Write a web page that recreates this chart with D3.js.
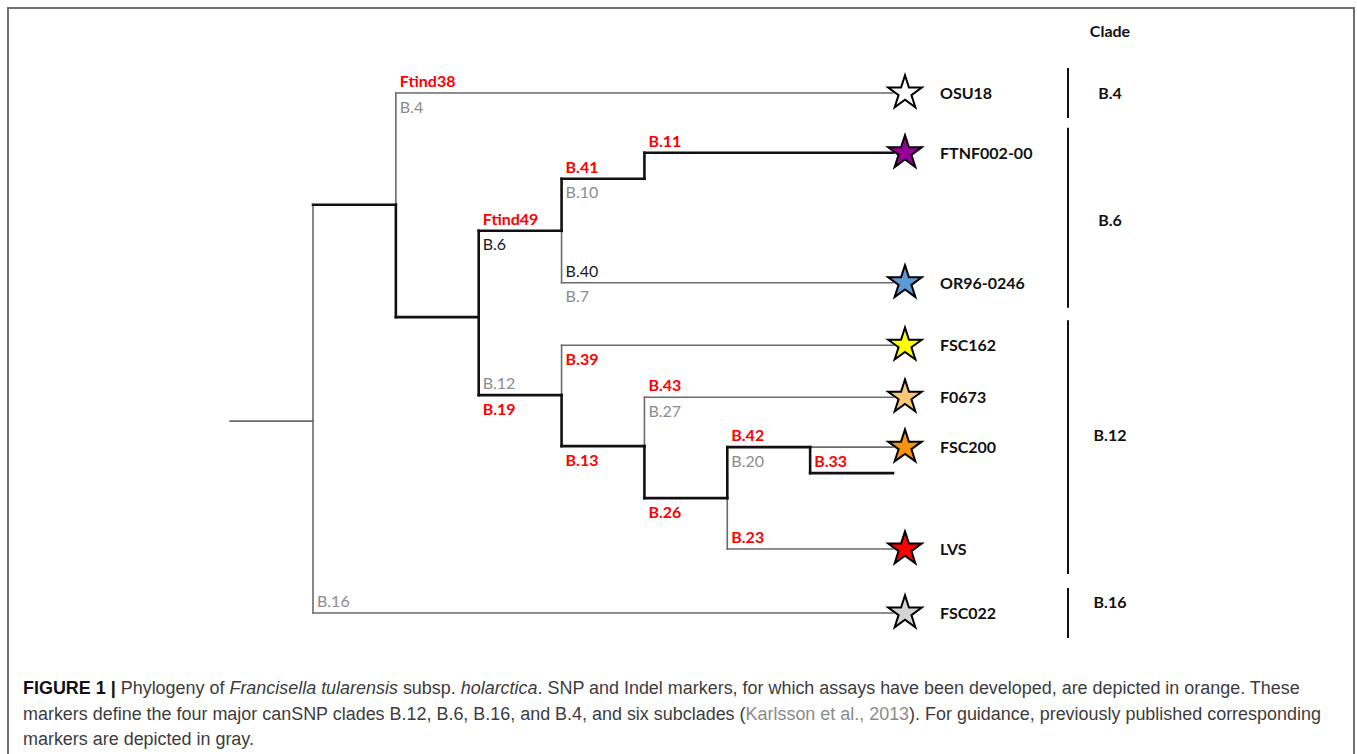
<!DOCTYPE html>
<html>
<head>
<meta charset="utf-8">
<script src="https://cdn.jsdelivr.net/npm/d3@7"></script>
<style>
  body { margin: 0; background: #fff; }
  svg { display: block; }
</style>
</head>
<body>
<svg id="chart" width="1357" height="754"></svg>
<script>
// tree: level = branch depth (tips at 7), row = vertical position 0 (top tip) .. 100 (bottom tip)
const treeNodes = [
  { id: 'root', parent: null, level: 0, row: 63.1 },
  { id: 'n1', parent: 'root', level: 1, row: 21.5, bold: 'h' },
  { id: 'OSU18', parent: 'n1', level: 7, row: 0 },
  { id: 'n2', parent: 'n1', level: 2, row: 43.1, bold: true },
  { id: 'n3', parent: 'n2', level: 3, row: 26.5, bold: true },
  { id: 'n4', parent: 'n3', level: 4, row: 16.5, bold: true },
  { id: 'FTNF002-00', parent: 'n4', level: 7, row: 11.5, bold: true },
  { id: 'OR96-0246', parent: 'n3', level: 7, row: 36.5 },
  { id: 'n5', parent: 'n2', level: 3, row: 58.1, bold: true },
  { id: 'FSC162', parent: 'n5', level: 7, row: 48.5 },
  { id: 'n6', parent: 'n5', level: 4, row: 67.9, bold: true },
  { id: 'F0673', parent: 'n6', level: 7, row: 58.5 },
  { id: 'n7', parent: 'n6', level: 5, row: 77.9, bold: true },
  { id: 'n8', parent: 'n7', level: 6, row: 68.1, bold: true },
  { id: 'FSC200', parent: 'n8', level: 7, row: 68.1 },
  { id: 'n9', parent: 'n8', level: 7, row: 73.1, bold: true },
  { id: 'LVS', parent: 'n7', level: 7, row: 87.7 },
  { id: 'FSC022', parent: 'root', level: 7, row: 100 }
]

// strains and star colours
const strainNames = ['OSU18', 'FTNF002-00', 'OR96-0246', 'FSC162', 'F0673', 'FSC200', 'LVS', 'FSC022']
const strainColors = ['#ffffff', '#990099', '#5b9bd5', '#ffff00', '#fac775', '#f7930f', '#ff0000', '#d4d4d4']

// markers on branches: kind new = red, old = gray, ref = black
const markers = [
  { edge: 'OSU18', text: 'Ftind38', kind: 'new', side: 'above' },
  { edge: 'OSU18', text: 'B.4', kind: 'old', side: 'below' },
  { edge: 'n3', text: 'Ftind49', kind: 'new', side: 'above' },
  { edge: 'n3', text: 'B.6', kind: 'ref', side: 'below' },
  { edge: 'n4', text: 'B.41', kind: 'new', side: 'above' },
  { edge: 'n4', text: 'B.10', kind: 'old', side: 'below' },
  { edge: 'FTNF002-00', text: 'B.11', kind: 'new', side: 'above' },
  { edge: 'OR96-0246', text: 'B.40', kind: 'ref', side: 'above' },
  { edge: 'OR96-0246', text: 'B.7', kind: 'old', side: 'below' },
  { edge: 'n5', text: 'B.12', kind: 'old', side: 'above' },
  { edge: 'n5', text: 'B.19', kind: 'new', side: 'below' },
  { edge: 'FSC162', text: 'B.39', kind: 'new', side: 'below' },
  { edge: 'n6', text: 'B.13', kind: 'new', side: 'below' },
  { edge: 'F0673', text: 'B.43', kind: 'new', side: 'above' },
  { edge: 'F0673', text: 'B.27', kind: 'old', side: 'below' },
  { edge: 'n7', text: 'B.26', kind: 'new', side: 'below' },
  { edge: 'n8', text: 'B.42', kind: 'new', side: 'above' },
  { edge: 'n8', text: 'B.20', kind: 'old', side: 'below' },
  { edge: 'n9', text: 'B.33', kind: 'new', side: 'above' },
  { edge: 'LVS', text: 'B.23', kind: 'new', side: 'above' },
  { edge: 'FSC022', text: 'B.16', kind: 'old', side: 'above' }
]

// clades
const cladeNames = ['B.4', 'B.6', 'B.12', 'B.16']
const cladeMembers = [['OSU18'], ['FTNF002-00', 'OR96-0246'], ['FSC162', 'F0673', 'FSC200', 'LVS'], ['FSC022']]
const cladeLabelRows = [0, 24.4, 65.8, 97.9]

const captionLines = [
  [['FIGURE 1 | ', 'b'], ['Phylogeny of ', ''], ['Francisella tularensis', 'i'], [' subsp. ', ''], ['holarctica', 'i'],
    ['. SNP and Indel markers, for which assays have been developed, are depicted in orange. These', '']],
  [['markers define the four major canSNP clades B.12, B.6, B.16, and B.4, and six subclades (', ''],
    ['Karlsson et al., 2013', 'g'], ['). For guidance, previously published corresponding', '']],
  [['markers are depicted in gray.', '']]
]

const kindColor = { new: '#ff0000', old: '#8c8c8c', ref: '#1a1a1a' }
const labelFont = 'Lato, "Open Sans", sans-serif'

const svg = d3.select('#chart')

// frame
svg.append('rect')
  .attr('x', 8).attr('y', 8)
  .attr('width', 1346).attr('height', 800)
  .attr('fill', 'none')
  .attr('stroke', '#707070')
  .attr('stroke-width', 2)

const x = d3.scaleLinear().domain([0, 7]).range([313, 893])
const y = d3.scaleLinear().domain([0, 100]).range([93, 613])

const root = d3.stratify().id(d => d.id).parentId(d => d.parent)(treeNodes)
const byId = new Map(root.descendants().map(d => [d.id, d]))

const thin = { stroke: '#6a6a6a', width: 1.6 }
const thick = { stroke: '#111', width: 2.6 }

const segs = []
// stub in front of root
segs.push({ x1: x(-1), y1: y(root.data.row), x2: x(0), y2: y(root.data.row), s: thin })
root.descendants().forEach(d => {
  if (!d.parent) return
  const px = x(d.parent.data.level)
  const py = y(d.parent.data.row)
  const cy = y(d.data.row)
  const b = d.data.bold
  const vs = b === true ? thick : thin
  const hs = b ? thick : thin
  segs.push({ x1: px, y1: py, x2: px, y2: cy, s: vs })
  segs.push({ x1: px, y1: cy, x2: x(d.data.level), y2: cy, s: hs })
})

// thin first, thick on top
segs.sort((a, b) => a.s.width - b.s.width)

svg.append('g')
  .selectAll('line')
  .data(segs)
  .join('line')
  .attr('x1', d => d.x1).attr('y1', d => d.y1)
  .attr('x2', d => d.x2).attr('y2', d => d.y2)
  .attr('stroke', d => d.s.stroke)
  .attr('stroke-width', d => d.s.width)
  .attr('stroke-linecap', 'square')

// branch markers
svg.append('g')
  .selectAll('text')
  .data(markers)
  .join('text')
  .attr('x', d => x(byId.get(d.edge).parent.data.level) + 4)
  .attr('y', d => y(byId.get(d.edge).data.row) + (d.side === 'above' ? -6 : 19.5))
  .attr('fill', d => kindColor[d.kind])
  .attr('font-family', labelFont)
  .attr('font-weight', d => d.kind === 'new' ? 700 : 400)
  .attr('font-size', 16)
  .text(d => d.text)

// stars and strain names
const star = d3.symbol().type(d3.symbolStar).size(350)
const strains = strainNames.map((name, i) => ({ name, color: strainColors[i], node: byId.get(name) }))

const leafG = svg.append('g')
  .selectAll('g')
  .data(strains)
  .join('g')
  .attr('transform', d => `translate(${x(7) + 12},${y(d.node.data.row)})`)

leafG.append('path')
  .attr('d', star)
  .attr('fill', d => d.color)
  .attr('stroke', '#000')
  .attr('stroke-width', 2)
  .attr('stroke-linejoin', 'miter')

leafG.append('text')
  .attr('x', 35)
  .attr('y', 6)
  .attr('font-family', labelFont)
  .attr('font-weight', 700)
  .attr('font-size', 16)
  .attr('fill', '#111')
  .text(d => d.name)

// clade column
const cladeX = 1068
svg.append('text')
  .attr('x', 1110).attr('y', 37)
  .attr('text-anchor', 'middle')
  .attr('font-family', labelFont)
  .attr('font-weight', 700)
  .attr('font-size', 16)
  .attr('fill', '#111')
  .text('Clade')

const clades = cladeNames.map((name, i) => {
  const rows = cladeMembers[i].map(m => byId.get(m).data.row)
  return { name, top: d3.min(rows), bottom: d3.max(rows), labelRow: cladeLabelRows[i] }
})

svg.append('g')
  .selectAll('line')
  .data(clades)
  .join('line')
  .attr('x1', cladeX).attr('x2', cladeX)
  .attr('y1', d => y(d.top) - 25)
  .attr('y2', d => y(d.bottom) + 25)
  .attr('stroke', '#111')
  .attr('stroke-width', 2)

svg.append('g')
  .selectAll('text')
  .data(clades)
  .join('text')
  .attr('x', 1110)
  .attr('y', d => y(d.labelRow) + 6)
  .attr('text-anchor', 'middle')
  .attr('font-family', labelFont)
  .attr('font-weight', 700)
  .attr('font-size', 16)
  .attr('fill', '#111')
  .text(d => d.name)

// caption
const cap = svg.append('g')
  .attr('font-family', '"Liberation Sans", Arial, sans-serif')
  .attr('fill', '#3c3c3c')
const capBase = [694, 720, 745]
const capLines = cap.selectAll('text')
  .data(captionLines)
  .join('text')
  .attr('x', 23)
  .attr('y', (d, i) => capBase[i])
  .attr('font-size', 17)

capLines.selectAll('tspan')
  .data(d => d)
  .join('tspan')
  .attr('font-weight', d => d[1] === 'b' ? 700 : 400)
  .attr('font-style', d => d[1] === 'i' ? 'italic' : 'normal')
  .attr('fill', d => d[1] === 'b' ? '#111' : d[1] === 'g' ? '#8a8a8a' : null)
  .text(d => d[0])

// fit caption to the column width
const firstW = capLines.node().getComputedTextLength()
const fs = 17 * 1277 / firstW
capLines.attr('font-size', fs)
</script>
</body>
</html>
